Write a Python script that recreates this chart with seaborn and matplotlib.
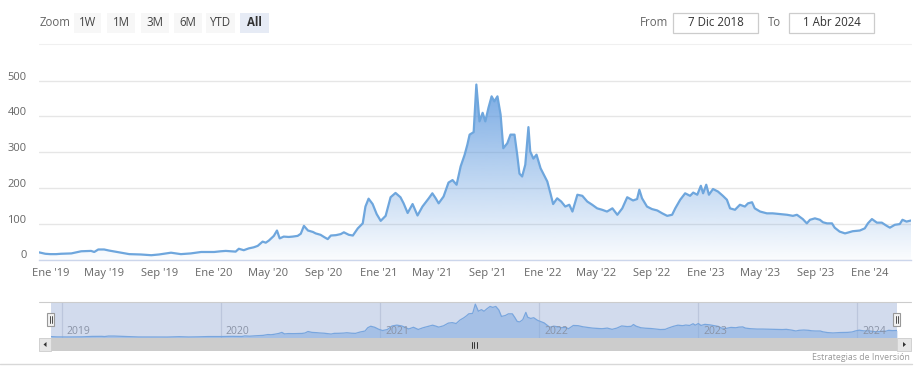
import numpy as np
import pandas as pd
import matplotlib
matplotlib.use("Agg")
import matplotlib.pyplot as plt
import matplotlib.dates as mdates
import matplotlib.transforms as mtransforms
from matplotlib.patches import Rectangle, Polygon
from matplotlib.lines import Line2D
import seaborn as sns

# ---------------- data ----------------
dates = [
    "2018-12-07", "2018-12-21", "2019-01-01", "2019-01-14", "2019-01-25", "2019-02-17", "2019-03-11",
    "2019-04-02", "2019-04-09", "2019-04-18", "2019-05-01", "2019-05-12", "2019-05-21", "2019-06-08",
    "2019-06-26", "2019-07-22", "2019-08-14", "2019-08-31", "2019-09-16", "2019-09-27", "2019-10-19",
    "2019-11-10", "2019-12-03",
    "2020-01-01", "2020-01-16", "2020-01-27", "2020-02-07", "2020-02-18", "2020-02-25", "2020-03-07",
    "2020-03-18", "2020-03-29", "2020-04-07", "2020-04-18", "2020-04-25", "2020-05-02", "2020-05-13",
    "2020-05-20", "2020-05-26", "2020-06-04", "2020-06-15", "2020-06-24", "2020-07-05", "2020-07-12",
    "2020-07-19", "2020-07-28", "2020-08-08", "2020-08-14", "2020-08-25", "2020-09-03", "2020-09-10",
    "2020-09-17", "2020-09-28", "2020-10-09", "2020-10-16", "2020-10-27", "2020-11-05", "2020-11-16",
    "2020-11-27", "2020-12-03", "2020-12-10", "2020-12-19", "2020-12-28",
    "2021-01-06", "2021-01-17", "2021-01-28", "2021-02-08", "2021-02-19", "2021-02-26", "2021-03-07",
    "2021-03-18", "2021-03-29", "2021-04-09", "2021-04-23", "2021-05-01", "2021-05-08", "2021-05-15",
    "2021-05-26", "2021-06-06", "2021-06-15", "2021-06-24", "2021-07-03", "2021-07-12", "2021-07-18",
    "2021-07-23", "2021-08-01", "2021-08-07", "2021-08-14", "2021-08-21", "2021-08-27", "2021-09-03",
    "2021-09-10", "2021-09-16", "2021-09-23", "2021-09-30", "2021-10-06", "2021-10-15", "2021-10-22",
    "2021-10-31", "2021-11-06", "2021-11-11", "2021-11-17", "2021-11-24", "2021-12-01", "2021-12-05",
    "2021-12-12", "2021-12-19", "2021-12-28",
    "2022-01-03", "2022-01-12", "2022-01-19", "2022-01-25", "2022-02-03", "2022-02-12", "2022-02-21",
    "2022-03-02", "2022-03-09", "2022-03-20", "2022-03-31", "2022-04-11", "2022-04-22", "2022-05-03",
    "2022-05-14", "2022-05-25", "2022-06-06", "2022-06-17", "2022-06-28", "2022-07-09", "2022-07-22",
    "2022-07-31", "2022-08-05", "2022-08-11", "2022-08-22", "2022-09-02", "2022-09-14", "2022-09-25",
    "2022-10-06", "2022-10-17", "2022-10-24", "2022-11-04", "2022-11-15", "2022-11-26", "2022-12-03",
    "2022-12-12", "2022-12-20", "2022-12-25",
    "2023-01-01", "2023-01-07", "2023-01-16", "2023-01-27", "2023-02-07", "2023-02-16", "2023-02-23",
    "2023-03-06", "2023-03-17", "2023-03-28", "2023-04-04", "2023-04-13", "2023-04-19", "2023-05-01",
    "2023-05-16", "2023-05-29", "2023-06-14", "2023-06-30", "2023-07-13", "2023-07-22", "2023-08-04",
    "2023-08-13", "2023-08-20", "2023-08-31", "2023-09-11", "2023-09-18", "2023-09-27", "2023-10-08",
    "2023-10-14", "2023-10-25", "2023-11-06", "2023-11-12", "2023-11-23", "2023-12-09", "2023-12-20",
    "2023-12-27",
    "2024-01-05", "2024-01-16", "2024-01-27", "2024-02-07", "2024-02-14", "2024-02-25", "2024-03-07",
    "2024-03-13", "2024-03-22", "2024-04-01",
]
values = [
    20, 16, 15, 15, 16, 17, 23, 24, 21, 28, 28, 25, 23, 19, 15, 14, 12, 14, 17, 19, 15, 17, 21,
    21, 23, 24, 23, 22, 30, 26, 31, 34, 38, 50, 47, 53, 66, 81, 59, 64, 63, 64, 66, 72,
    94, 81, 77, 73, 69, 62, 57, 67, 68, 71, 76, 69, 67, 87, 101, 148, 170, 155, 127,
    108, 122, 174, 186, 174, 157, 130, 155, 123, 148, 171, 185, 172, 157, 176, 215, 222, 209, 260, 293,
    321, 349, 356, 489, 386, 410, 386, 424, 456, 442, 456, 405, 311, 325, 349, 349, 293, 240, 232, 265,
    370, 302, 282, 293, 255,
    240, 218, 185, 155, 171, 162, 148, 153, 134, 181, 178, 162, 153, 143, 139, 134, 143, 125, 143, 174,
    165, 169, 195, 171, 148, 141, 137, 129, 122, 125, 143, 167, 185, 178, 187, 181, 206, 185,
    209, 181, 197, 190, 178, 167, 143, 139, 153, 148, 157, 160, 143, 134, 129, 129, 127, 125, 122, 125,
    113, 101, 111, 115, 111, 104, 101, 101, 89, 78, 73, 75, 79, 81, 87, 101,
    113, 103, 103, 94, 89, 97, 99, 111, 106, 109,
]
x_tick_dates = ["2019-01-01", "2019-05-01", "2019-09-01", "2020-01-01", "2020-05-01", "2020-09-01",
                "2021-01-01", "2021-05-01", "2021-09-01", "2022-01-01", "2022-05-01", "2022-09-01",
                "2023-01-01", "2023-05-01", "2023-09-01", "2024-01-01"]
x_tick_labels = ["Ene '19", "May '19", "Sep '19", "Ene '20", "May '20", "Sep '20",
                 "Ene '21", "May '21", "Sep '21", "Ene '22", "May '22", "Sep '22",
                 "Ene '23", "May '23", "Sep '23", "Ene '24"]
y_ticks = [0, 100, 200, 300, 400, 500]
nav_years = ["2019", "2020", "2021", "2022", "2023", "2024"]
range_buttons = ["1W", "1M", "3M", "6M", "YTD", "All"]
range_start, range_end = "2018-12-07", "2024-04-01"
from_label, to_label = "From", "To"
from_text, to_text = "7 Dic 2018", "1 Abr 2024"
zoom_label = "Zoom"
credit = "Estrategias de Inversión"

# ---------------- style ----------------
sns.set_theme(style="white")
plt.rcParams['font.family'] = ['Open Sans', 'DejaVu Sans']

W, H = 920, 375
fig = plt.figure(figsize=(W / 100, H / 100), dpi=100)
fig.patch.set_facecolor("white")


def ax_rect(x0, y0, x1, y1):
    return [x0 / W, 1 - y1 / H, (x1 - x0) / W, (y1 - y0) / H]


def frect(x0, y0, x1, y1, **kw):
    fig.add_artist(Rectangle((x0 / W, 1 - y1 / H), (x1 - x0) / W, (y1 - y0) / H,
                             transform=fig.transFigure, **kw))


def fline(xs, ys, **kw):
    fig.add_artist(Line2D([x / W for x in xs], [1 - y / H for y in ys],
                          transform=fig.transFigure, **kw))


def ftext(x, y, s, **kw):
    fig.text(x / W, 1 - y / H, s, **kw)


df = pd.DataFrame({"date": pd.to_datetime(dates), "value": values})
t0, t1 = pd.Timestamp(range_start), pd.Timestamp(range_end)
xn0, xn1 = mdates.date2num(t0), mdates.date2num(t1)

LINE = "#6ea6dd"

# ---------------- main chart ----------------
ax = fig.add_axes(ax_rect(39, 62, 911, 259.5))
ax.set_facecolor("none")
poly = ax.fill_between(df["date"], df["value"], 0, facecolor="none", edgecolor="none")
grad = np.zeros((256, 1, 4))
grad[:, 0, :3] = np.array([92, 152, 222]) / 255
grad[:, 0, 3] = np.linspace(0.03, 0.85, 256)
im = ax.imshow(grad, extent=[xn0, xn1, 0, 500], origin="lower", aspect="auto", zorder=1,
               interpolation="bilinear")
im.set_clip_path(poly.get_paths()[0], transform=ax.transData)
sns.lineplot(data=df, x="date", y="value", ax=ax, color=LINE, linewidth=1.6, zorder=3)
ax.set_xlim(t0, t1)
ax.set_ylim(0, 552)
ax.set_xlabel("")
ax.set_ylabel("")
ax.set_yticks(y_ticks)
ax.set_yticklabels([str(v) for v in y_ticks])
ax.grid(axis="y", color="#e6e6e6", linewidth=1)
ax.grid(axis="x", visible=False)
ax.set_axisbelow(True)
ax.set_xticks(pd.to_datetime(x_tick_dates))
ax.set_xticklabels(x_tick_labels)
for s in ["top", "right", "left"]:
    ax.spines[s].set_visible(False)
ax.spines["bottom"].set_color("#ccd6eb")
ax.spines["bottom"].set_linewidth(1)
ax.tick_params(axis="y", length=0, pad=9, labelsize=8, labelcolor="#666666")
ax.tick_params(axis="x", length=4.5, width=1, color="#ccd6eb", pad=1.5, labelsize=8,
               labelcolor="#666666", direction="out")
off = mtransforms.ScaledTranslation(0, 5 / 100, fig.dpi_scale_trans)
for lab in ax.get_yticklabels():
    lab.set_transform(lab.get_transform() + off)

# ---------------- navigator ----------------
axn = fig.add_axes(ax_rect(51, 302, 897, 338))
axn.set_facecolor("#d2dbed")
axn.fill_between(df["date"], df["value"], 0, color="#7aa7e0", alpha=0.5, linewidth=0, zorder=2)
sns.lineplot(data=df, x="date", y="value", ax=axn, color="#79a6de", linewidth=0.9, zorder=3)
axn.set_xlim(t0, t1)
axn.set_ylim(0, 520)
axn.set_xlabel("")
axn.set_ylabel("")
axn.set_xticks([])
axn.set_yticks([])
for s in axn.spines.values():
    s.set_visible(False)
for yr in nav_years:
    d = pd.Timestamp(f"{yr}-01-01")
    axn.axvline(d, color="#bcc6dc", linewidth=0.9, zorder=1)
    axn.annotate(yr, xy=(d, 0), xycoords=("data", "axes fraction"), xytext=(3.5, 0.8),
                 textcoords="offset points", fontsize=7.5, color="#8a93a6", ha="left", va="bottom",
                 zorder=4)

# navigator outline top
fline([39, 911], [302, 302], color="#cccccc", linewidth=0.8)

# handles
for cx in (51, 897):
    frect(cx - 3.5, 312.5, cx + 3.5, 326, facecolor="#f2f2f2", edgecolor="#999999", linewidth=0.8)
    for dx in (-1, 1):
        fline([cx + dx, cx + dx], [316, 322.5], color="#333333", linewidth=0.6)

# scrollbar
frect(39, 338, 911, 351, facecolor="#f2f2f2", edgecolor="none")
frect(51, 338, 897, 351, facecolor="#cccccc", edgecolor="none")
frect(39, 338, 51, 351, facecolor="#e6e6e6", edgecolor="#cccccc", linewidth=0.6)
frect(897, 338, 911, 351, facecolor="#e6e6e6", edgecolor="#cccccc", linewidth=0.6)
fig.add_artist(Polygon([(43.5 / W, 1 - 344.5 / H), (46.5 / W, 1 - 342 / H), (46.5 / W, 1 - 347 / H)],
                       closed=True, transform=fig.transFigure, facecolor="#333333", edgecolor="none"))
fig.add_artist(Polygon([(906 / W, 1 - 344.5 / H), (903 / W, 1 - 342 / H), (903 / W, 1 - 347 / H)],
                       closed=True, transform=fig.transFigure, facecolor="#333333", edgecolor="none"))
for gx in (472, 474.5, 477):
    fline([gx, gx], [341.5, 347.5], color="#333333", linewidth=0.7)

# bottom separator + credit
fline([0, 912], [364, 364], color="#d8d8d8", linewidth=1)
ftext(910, 357, credit, fontsize=6.3, color="#999999", ha="right", va="center")

# top separator
fline([39, 911], [44, 44], color="#f0f0f0", linewidth=0.8)

# ---------------- range selector ----------------
ftext(40, 22.5, zoom_label, fontsize=8.3, color="#666666", ha="left", va="center")
btn_x = [(74, 101.5), (107, 135), (140.5, 168.5), (174, 202), (206.5, 235.5), (240, 268.5)]
for (bx0, bx1), lab in zip(btn_x, range_buttons):
    sel = lab == "All"
    frect(bx0, 12.7, bx1, 32.7, facecolor="#e6ebf5" if sel else "#f7f7f7", edgecolor="none")
    ftext((bx0 + bx1) / 2, 22.5, lab, fontsize=8.3, color="#333333" if sel else "#444444",
          ha="center", va="center", fontweight="bold" if sel else "normal")

ftext(640, 22.5, from_label, fontsize=8.3, color="#666666", ha="left", va="center")
frect(673, 13.3, 757.7, 32.7, facecolor="white", edgecolor="#cccccc", linewidth=0.9)
ftext(715.5, 22.5, from_text, fontsize=8.3, color="#333333", ha="center", va="center")
ftext(768, 22.5, to_label, fontsize=8.3, color="#666666", ha="left", va="center")
frect(789.3, 13.3, 874.3, 32.7, facecolor="white", edgecolor="#cccccc", linewidth=0.9)
ftext(832, 22.5, to_text, fontsize=8.3, color="#333333", ha="center", va="center")

fig.savefig("out.png", dpi=100)
